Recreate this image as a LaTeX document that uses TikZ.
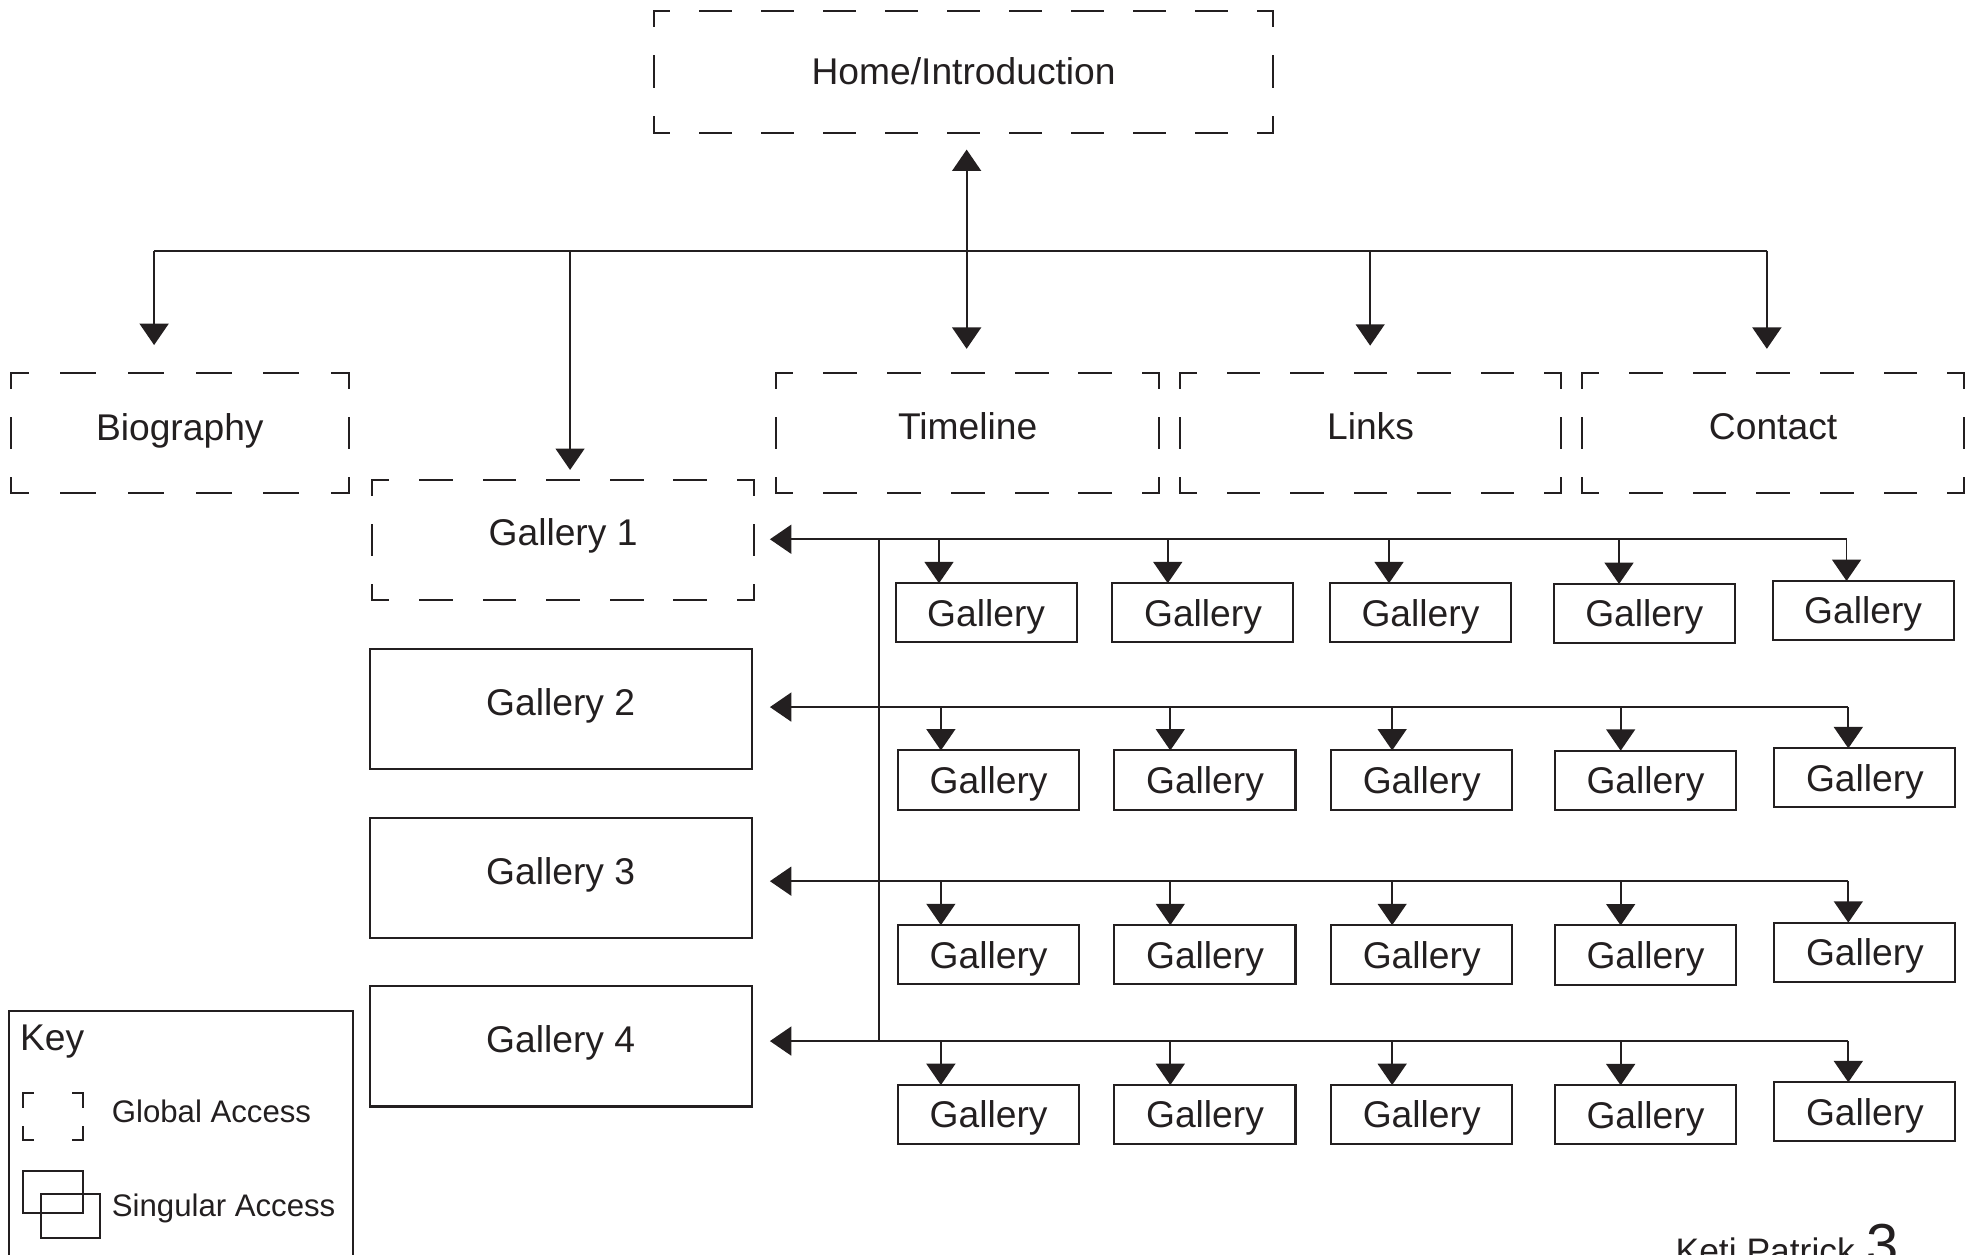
\documentclass[tikz,border=0pt]{standalone}
\usepackage{fontspec}
\setmainfont{Liberation Sans}
\usetikzlibrary{arrows.meta}
\definecolor{ink}{HTML}{231F20}
\newcommand\gdside[3]{%
  \pgfmathsetmacro\gdN{max(1,round((#3)/50))}%
  \pgfmathsetmacro\gdH{(#3)/\gdN/2}%
  \pgfmathsetmacro\gdQ{\gdH/2}%
  \draw[gline, dash pattern=on \gdH pt off \gdH pt, dash phase=\gdQ pt] (#1) -- (#2);%
}
\newcommand\gborder[3]{%
  \gdside{#1.north west}{#1.north east}{#2}%
  \gdside{#1.south west}{#1.south east}{#2}%
  \gdside{#1.north west}{#1.south west}{#3}%
  \gdside{#1.north east}{#1.south east}{#3}%
}
\tikzset{
  gline/.style={draw=ink, line width=1.6pt, line cap=rect},
  mainfont/.style={font=\fontsize{29.6pt}{35pt}\selectfont, text=ink},
  gbox/.style={rectangle, inner sep=0pt, outer sep=0pt, mainfont, text height=21.2pt, text depth=11pt, minimum height=95.5pt},
  sbox/.style={gbox, draw=ink, line width=1.6pt},
  cell/.style={rectangle, draw=ink, line width=1.6pt, inner sep=0pt, outer sep=0pt, mainfont, text height=21.2pt, text depth=0pt, minimum width=144pt, minimum height=47pt},
  conn/.style={draw=ink, line width=1.4pt},
  arr/.style={conn, -{Triangle[length=17pt,width=23pt]}},
  arrboth/.style={conn, {Triangle[length=17pt,width=23pt]}-{Triangle[length=17pt,width=23pt]}},
  keytext/.style={inner sep=0pt, outer sep=0pt, text=ink, anchor=base west},
  icon/.style={rectangle, inner sep=0pt, outer sep=0pt},
}
\begin{document}
\begin{tikzpicture}[x=1pt, y=-1pt]
\useasboundingbox (0,0) rectangle (1568,998);
\clip (0,0) rectangle (1568,998);

% ---- top level (global access) ----
\node[gbox, minimum width=492.8pt, minimum height=97pt, text depth=0pt] (home) at (766.6,57) {Home/Introduction};
\gborder{home}{492.8}{97}
\node[gbox, minimum width=269.1pt, text depth=9.7pt] (bio) at (143.05,344.75) {Biography};
\gborder{bio}{269.1}{95.5}
\node[gbox, minimum width=305pt] (tl) at (769.8,344.75) {Timeline};
\gborder{tl}{305}{95.5}
\node[gbox, minimum width=303.2pt] (lk) at (1090.3,344.75) {Links};
\gborder{lk}{303.2}{95.5}
\node[gbox, minimum width=303.9pt] (ct) at (1410.55,344.75) {Contact};
\gborder{ct}{303.9}{95.5}
\node[gbox, minimum width=303.5pt, text depth=12pt] (g1) at (447.95,429.6) {Gallery 1};
\gborder{g1}{303.5}{95.5}

% ---- galleries (singular access) ----
\node[sbox, minimum width=304pt] (g2) at (446,564.25) {Gallery 2};
\node[sbox, minimum width=304pt] (g3) at (446,698.5) {Gallery 3};
\node[sbox, minimum width=304pt] (g4) at (446,832.5) {Gallery 4};

% row 1
\node[cell] (g11) at (784.5,487.5) {Gallery};
\node[cell] (g12) at (957,487.5) {Gallery};
\node[cell] (g13) at (1130,487.5) {Gallery};
\node[cell] (g14) at (1308,488.1) {Gallery};
\node[cell] (g15) at (1482.2,485.7) {Gallery};
% row 2
\node[cell] (g21) at (786.5,620.5) {Gallery};
\node[cell] (g22) at (958.6,620.5) {Gallery};
\node[cell] (g23) at (1131,620.5) {Gallery};
\node[cell] (g24) at (1309,620.7) {Gallery};
\node[cell] (g25) at (1483.6,618.8) {Gallery};
% row 3
\node[cell] (g31) at (786.5,759.5) {Gallery};
\node[cell] (g32) at (958.6,759.5) {Gallery};
\node[cell] (g33) at (1131,759.5) {Gallery};
\node[cell] (g34) at (1309,759.7) {Gallery};
\node[cell] (g35) at (1483.6,757.5) {Gallery};
% row 4
\node[cell] (g41) at (786.5,886.7) {Gallery};
\node[cell] (g42) at (958.6,886.7) {Gallery};
\node[cell] (g43) at (1131,886.7) {Gallery};
\node[cell] (g44) at (1309,886.9) {Gallery};
\node[cell] (g45) at (1483.6,884.5) {Gallery};

% ---- top connectors ----
\coordinate (bb) at (122.6,199.4);
\coordinate (bg) at (453.5,199.4);
\coordinate (bv) at (769,199.4);
\coordinate (bl) at (1090,199.4);
\coordinate (bc) at (1405.6,199.4);
\draw[conn] (bb) -- (bc);
\draw[arrboth, shorten <=13.5pt, shorten >=19.5pt] (bv |- home.south) -- (bv |- tl.north);
\draw[arr, shorten >=22.5pt] (bb) -- (bb |- bio.north);
\draw[arr, shorten >=8pt] (bg) -- (bg |- g1.north);
\draw[arr, shorten >=22pt] (bl) -- (bl |- lk.north);
\draw[arr, shorten >=19.5pt] (bc) -- (bc |- ct.north);

% ---- gallery buses ----
\coordinate (e1) at (1469,429);
\coordinate (e2) at (1470.4,562.5);
\coordinate (e3) at (1470.4,701);
\coordinate (e4) at (1470.4,828.2);
\coordinate (vt) at (699,429);
\coordinate (vb) at (699,828.2);
\draw[conn] (vt) -- (vb);
\draw[arr, shorten >=12.8pt] (e1) -- (e1 -| g1.east);
\draw[arr, shorten >=14.5pt] (e2) -- (e2 -| g2.east);
\draw[arr, shorten >=14.5pt] (e3) -- (e3 -| g3.east);
\draw[arr, shorten >=14.5pt] (e4) -- (e4 -| g4.east);

\coordinate (d11) at (747,429);
\coordinate (d12) at (929,429);
\coordinate (d13) at (1105,429);
\coordinate (d14) at (1288,429);
\coordinate (d15) at (1469,429);
\foreach \r/\y in {2/562.5,3/701,4/828.2}{
  \coordinate (d\r1) at (748.5,\y);
  \coordinate (d\r2) at (931,\y);
  \coordinate (d\r3) at (1107.5,\y);
  \coordinate (d\r4) at (1289.3,\y);
  \coordinate (d\r5) at (1470.4,\y);
}
\foreach \r in {1,2,3,4}{
  \foreach \c in {1,2,3,4,5}{
    \draw[arr] (d\r\c) -- (d\r\c |- g\r\c.north);
  }
}

% ---- key ----
\node[rectangle, draw=ink, line width=1.6pt, inner sep=0pt, outer sep=0pt, minimum width=273.8pt, minimum height=230pt, anchor=north west] (keybox) at (7.2,804) {};
\node[keytext, font=\fontsize{29.6pt}{35pt}\selectfont] (keyt) at (16,836) {Key};
\node[icon, minimum width=47.2pt, minimum height=37.1pt] (kg) at (42.2,888.35) {};
\draw[gline, dash pattern=on 16pt off 31.2pt, dash phase=8pt] (kg.north west) -- (kg.north east);
\draw[gline, dash pattern=on 16pt off 31.2pt, dash phase=8pt] (kg.south west) -- (kg.south east);
\draw[gline, dash pattern=on 21pt off 16.1pt, dash phase=10.5pt] (kg.north west) -- (kg.south west);
\draw[gline, dash pattern=on 21pt off 16.1pt, dash phase=10.5pt] (kg.north east) -- (kg.south east);
\node[keytext, font=\fontsize{24.8pt}{29pt}\selectfont] (kgt) at (89,893) {Global Access};
\node[keytext, font=\fontsize{24.8pt}{29pt}\selectfont] (kst) at (89,968) {Singular Access};
\node[icon, draw=ink, line width=1.6pt, minimum width=47.2pt, minimum height=33.9pt] (ksa) at (42.2,948.25) {};
\node[icon, draw=ink, line width=1.6pt, minimum width=47.2pt, minimum height=35pt] (ksb) at (56,967.5) {};

% ---- signature ----
\node[keytext, font=\fontsize{28.2pt}{33pt}\selectfont] (auth) at (1333,1005) {Keti Patrick};
\node[keytext, font=\fontsize{46pt}{52pt}\selectfont] (pnum) at (1485,1006) {3};
\end{tikzpicture}
\end{document}
